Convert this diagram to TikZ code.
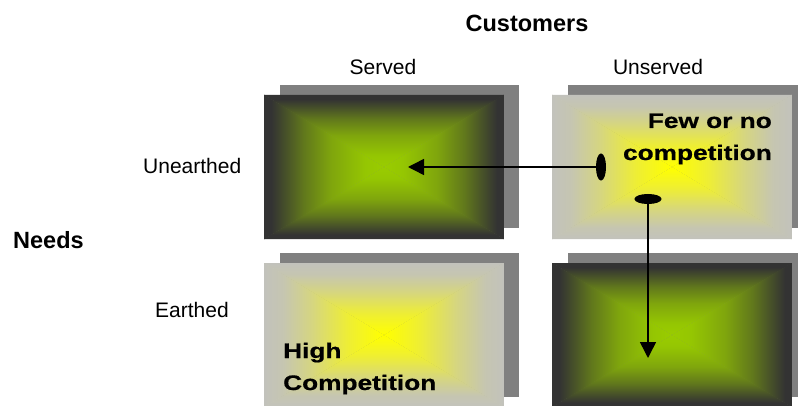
\documentclass[tikz,border=0pt]{standalone}
\usepackage{fontspec}
\setmainfont{Liberation Sans}
\newfontfamily\heavyfont{Liberation Sans}[UprightFont=* Bold,FakeBold=0.6]
\usepackage{graphicx}
\usetikzlibrary{arrows.meta}
\definecolor{shadowgray}{HTML}{808080}
\definecolor{greenc}{HTML}{99CC00}
\definecolor{darke}{HTML}{333333}
\definecolor{yellowc}{HTML}{FFFF00}
\definecolor{graye}{HTML}{C2C2BC}

% centre (25bp) -> edge (75bp) profiles
\pgfdeclareverticalshading{greenpyr}{100bp}{%
  color(0bp)=(greenc); color(25bp)=(greenc);
  color(33bp)=(greenc!96!darke);
  color(47bp)=(greenc!75!darke); color(58.5bp)=(greenc!45!darke);
  color(66.5bp)=(greenc!18!darke);
  color(72bp)=(darke); color(100bp)=(darke)}
\pgfdeclareverticalshading{yellowpyr}{100bp}{%
  color(0bp)=(yellowc); color(25bp)=(yellowc);
  color(40bp)=(yellowc!72!graye); color(55bp)=(yellowc!32!graye);
  color(67bp)=(yellowc!6!graye);
  color(75bp)=(graye); color(100bp)=(graye)}

% pyramid (rectangular "from centre") gradient box
\newcommand\pyrbox[5]{%
  \pgfmathsetmacro\pcx{(#1+#3)/2}%
  \pgfmathsetmacro\pcy{(#2+#4)/2}%
  \begin{scope}\clip (#1-0.3,#4)--(#3+0.3,#4)--(\pcx,\pcy)--cycle;
    \shade[shading=#5,shading angle=0] (#1,\pcy) rectangle (#3,#4);\end{scope}
  \begin{scope}\clip (#1-0.3,#2)--(#3+0.3,#2)--(\pcx,\pcy)--cycle;
    \shade[shading=#5,shading angle=180] (#1,#2) rectangle (#3,\pcy);\end{scope}
  \begin{scope}\clip (#1,#2-0.3)--(#1,#4+0.3)--(\pcx,\pcy)--cycle;
    \shade[shading=#5,shading angle=90] (#1,#2) rectangle (\pcx,#4);\end{scope}
  \begin{scope}\clip (#3,#2-0.3)--(#3,#4+0.3)--(\pcx,\pcy)--cycle;
    \shade[shading=#5,shading angle=270] (\pcx,#2) rectangle (#3,#4);\end{scope}
}

\begin{document}
\begin{tikzpicture}[x=1pt,y=1pt,
  cell/.style={minimum width=240pt,minimum height=144pt,inner sep=0pt,draw=none},
  shadowbox/.style={fill=shadowgray},
  lbl/.style={font=\fontsize{21}{25}\selectfont,inner sep=0pt},
  title/.style={font=\bfseries\fontsize{23.5}{28}\selectfont,inner sep=0pt},
  boxtext/.style={font=\heavyfont\fontsize{21}{32}\selectfont,inner sep=0pt},
  conn/.style={line width=1.5pt,{Ellipse[length=10pt,width=27pt]}-{Triangle[length=16pt,width=16pt]}}]
\useasboundingbox (0,0) rectangle (798,405);
\clip (0,0) rectangle (798,405);
\fill[white] (0,0) rectangle (798,405);

% shadows
\fill[shadowbox] (280,177) rectangle (519,320);
\fill[shadowbox] (568,177) rectangle (800,320);
\fill[shadowbox] (280,8) rectangle (519,152);
\fill[shadowbox] (568,8) rectangle (800,152);

% gradient boxes
\pyrbox{264}{166}{504}{310}{greenpyr}
\pyrbox{552}{166}{792}{310}{yellowpyr}
\pyrbox{264}{-2}{504}{142}{yellowpyr}
\pyrbox{552}{-2}{792}{142}{greenpyr}

\node[cell] (tl) at (384,238) {};
\node[cell] (tr) at (672,238) {};
\node[cell] (bl) at (384,70) {};
\node[cell] (br) at (672,70) {};

% axis labels
\node[title,anchor=base] (cust) at (527,373) {Customers};
\node[lbl,anchor=base] (served) at (383,330) {Served};
\node[lbl,anchor=base] (unserved) at (658,330) {Unserved};
\node[lbl,anchor=base west] (unearthed) at (143,232) {Unearthed};
\node[title,anchor=base west] (needs) at (13,157) {Needs};
\node[lbl,anchor=base west] (earthed) at (155,88) {Earthed};

% box texts
\node[boxtext,anchor=base east] (few) at (772,277)
  {\scalebox{1.25}[1]{\begin{tabular}[t]{@{}r@{}}Few or no\\competition\end{tabular}}};
\node[boxtext,anchor=base west] (high) at (283,47)
  {\scalebox{1.25}[1]{\begin{tabular}[t]{@{}l@{}}High\\Competition\end{tabular}}};

% connectors
\coordinate (e1) at ([xshift=-66pt]tr.center);
\coordinate (t1) at ([xshift=24pt]tl.center);
\coordinate (e2) at ([xshift=-24pt,yshift=-27pt]tr.center);
\coordinate (t2) at ([xshift=-24pt,yshift=-23pt]br.center);
\draw[conn] (e1) -- (t1);
\draw[conn] (e2) -- (t2);
\end{tikzpicture}
\end{document}
